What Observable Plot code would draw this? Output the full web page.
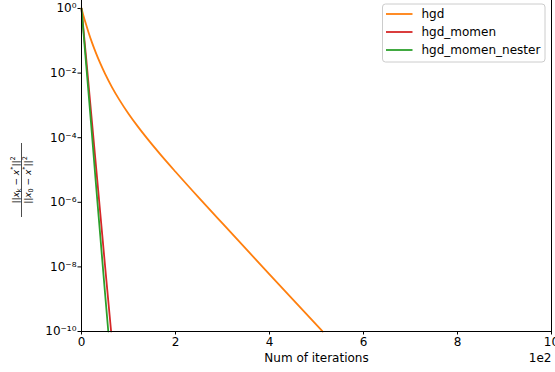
<!DOCTYPE html>
<html>
<head>
<meta charset="utf-8">
<script src="https://cdn.jsdelivr.net/npm/d3@7"></script>
<script src="https://cdn.jsdelivr.net/npm/@observablehq/plot@0.6"></script>
<style>
  html, body { margin: 0; padding: 0; background: white; }
  #chart { width: 555px; height: 372px; overflow: hidden; }
</style>
</head>
<body>
<div id="chart"></div>
<script>
// ---- data ----
const seriesNames = ["hgd", "hgd_momen", "hgd_momen_nester"];
const seriesColors = ["#ff7f0e", "#d62728", "#2ca02c"];

const iterHgd = [0, 4, 8, 15, 22, 30, 40, 50, 65, 80, 100, 120, 140, 170, 200, 250, 300, 350, 400, 450, 513];
const valHgd = [1, 6.12e-1, 3.89e-1, 1.82e-1, 9.12e-2, 4.46e-2, 1.99e-2, 9.62e-3, 3.63e-3, 1.54e-3, 5.53e-4, 2.20e-4, 9.35e-5, 2.79e-5, 8.83e-6, 1.37e-6, 2.21e-7, 3.61e-8, 5.89e-9, 9.66e-10, 1e-10];

const iterMomen = [0, 10, 20, 30, 40, 50, 63];
const valMomen = [1, 2.8e-2, 7.1e-4, 1.78e-5, 4.5e-7, 1.12e-8, 1e-10];

const iterNester = [0, 10, 20, 30, 40, 50, 57];
const valNester = [1, 1.78e-2, 3.2e-4, 5.0e-6, 8.9e-8, 1.58e-9, 1e-10];

const xTicks = [0, 200, 400, 600, 800, 1000];
const yTicks = [1, 1e-2, 1e-4, 1e-6, 1e-8, 1e-10];
const xLabel = "Num of iterations";
const xMultiplier = "1e2";

// ---- build table ----
const seriesData = [[iterHgd, valHgd], [iterMomen, valMomen], [iterNester, valNester]];
const rows = seriesData.flatMap(([xs, ys], i) =>
  xs.map((x, j) => ({series: seriesNames[i], iter: x, value: ys[j]})));

const supMap = {"-": "⁻", "0": "⁰", "1": "¹", "2": "²", "3": "³", "4": "⁴", "5": "⁵", "6": "⁶", "7": "⁷", "8": "⁸", "9": "⁹"};
const fmtPow = d => "10" + String(Math.round(Math.log10(d))).split("").map(c => supMap[c]).join("");

const font = "'DejaVu Sans', 'Liberation Sans', sans-serif";

const plot = Plot.plot({
  width: 555,
  height: 372,
  marginLeft: 81,
  marginRight: 4,
  marginTop: 0,
  marginBottom: 41,
  style: {fontFamily: font, fontSize: "12px", color: "#000", background: "white"},
  x: {domain: [0, 1000]},
  y: {type: "log", domain: [1e-10, 1.77]},
  color: {domain: seriesNames, range: seriesColors},
  marks: [
    Plot.axisX({ticks: xTicks, tickFormat: d => String(d / 100), tickSize: 3.5, tickPadding: 2, label: null}),
    Plot.axisY({ticks: yTicks, tickFormat: fmtPow, tickSize: 3.5, tickPadding: 1.5, label: null}),
    Plot.line(rows, {x: "iter", y: "value", z: "series", stroke: "series", strokeWidth: 1.8, curve: "monotone-x"}),
    Plot.ruleX([0, 1000], {stroke: "#000", strokeWidth: 1}),
    Plot.ruleY([1e-10], {stroke: "#000", strokeWidth: 1}),
    Plot.text([xLabel], {frameAnchor: "bottom", dy: 30, text: d => d}),
    Plot.text([xMultiplier], {frameAnchor: "bottom-right", dy: 30, textAnchor: "end", text: d => d})
  ]
});

document.getElementById("chart").appendChild(plot);

// ---- legend ----
const svg = d3.select(plot);
const lg = svg.append("g").attr("font-family", font).attr("font-size", 12).attr("text-anchor", "start");
lg.append("rect")
  .attr("x", 382.5).attr("y", 4).attr("width", 162.5).attr("height", 58)
  .attr("rx", 3).attr("fill", "white").attr("fill-opacity", 0.8)
  .attr("stroke", "#cccccc").attr("stroke-width", 1);
seriesNames.forEach((name, i) => {
  const y = 14 + i * 18;
  lg.append("line").attr("x1", 386).attr("x2", 412.5).attr("y1", y).attr("y2", y)
    .attr("stroke", seriesColors[i]).attr("stroke-width", 1.8);
  lg.append("text").attr("x", 421.5).attr("y", y).attr("dy", "0.35em")
    .attr("text-anchor", "start").attr("fill", "#000").text(name);
});

// ---- y label (fraction) ----
const yl = svg.append("g").attr("transform", "translate(21.5,180) rotate(-90)")
  .attr("font-family", font).attr("font-size", 9).attr("fill", "#000");
yl.append("line").attr("x1", -37).attr("x2", 37).attr("y1", 0).attr("y2", 0)
  .attr("stroke", "#000").attr("stroke-width", 0.7);
function fracPart(y, sub) {
  const t = yl.append("text").attr("x", 0).attr("y", y).attr("text-anchor", "middle");
  t.append("tspan").text("||");
  t.append("tspan").attr("font-style", "italic").text("x");
  t.append("tspan").attr("font-size", 6.5).attr("dy", 2).text(sub);
  t.append("tspan").attr("dy", -2).text(" − ");
  t.append("tspan").attr("font-style", "italic").text("x");
  t.append("tspan").attr("font-size", 6.5).attr("dy", -3.5).text("*");
  t.append("tspan").attr("dy", 3.5).text("||");
  t.append("tspan").attr("font-size", 6.5).attr("dy", -3.5).text("2");
}
fracPart(-3, "k");
fracPart(9, "0");
</script>
</body>
</html>
